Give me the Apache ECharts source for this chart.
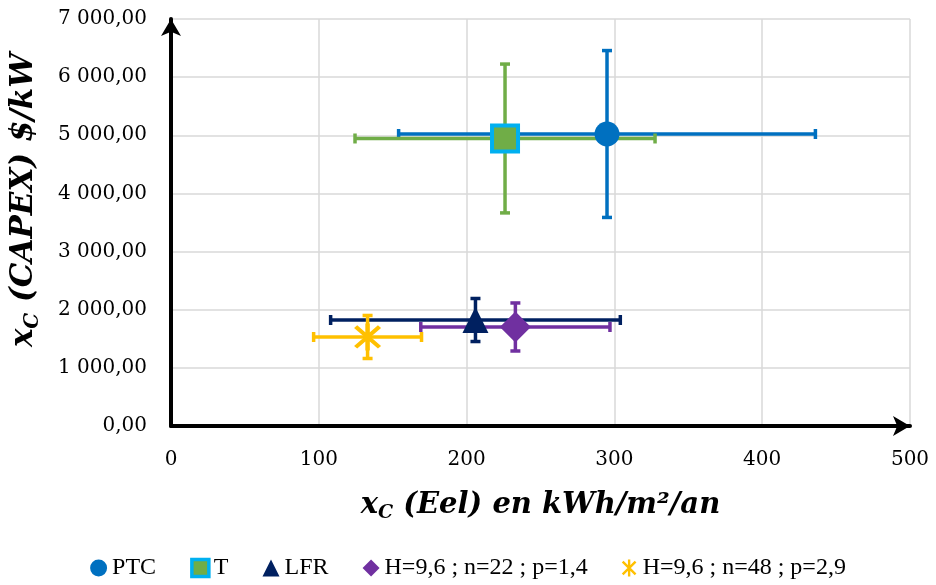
<!DOCTYPE html>
<html>
<head>
<meta charset="utf-8">
<script src="https://cdn.jsdelivr.net/npm/echarts@6/dist/echarts.min.js"></script>
<style>html,body{margin:0;padding:0;background:#fff;}#c{width:936px;height:585px;}</style>
</head>
<body>
<div id="c"></div>
<script>
var categories = ['PTC', 'T', 'LFR', 'H=9,6 ; n=22 ; p=1,4', 'H=9,6 ; n=48 ; p=2,9'];
var xValues = [295, 226, 206, 233, 133];
var yValues = [5022, 4945, 1823, 1703, 1531];
var xErrors = [141, 101.5, 98, 64, 36.5];
var yErrors = [1435, 1280, 370, 413, 370];
var xTicks = [0, 100, 200, 300, 400, 500];
var yTicks = [0, 1000, 2000, 3000, 4000, 5000, 6000, 7000];

var colors = ['#0070C0', '#70AD47', '#002060', '#7030A0', '#FFC000'];
var starPath = 'path://M43 0L57 0L57 100L43 100Z M17 7L93 83L83 93L7 17Z M83 7L93 17L17 93L7 83Z';
var symbols = ['circle', 'rect', 'triangle', 'diamond', starPath];
var sizes = [25, 26, 26, 31, 27];

function fmt(v) {
  var s = Math.round(v).toString().replace(/\B(?=(\d{3})+(?!\d))/g, ' ');
  return s + ',00';
}

var series = [];
// error bars
categories.forEach(function (name, i) {
  series.push({
    type: 'custom',
    name: name,
    z: 2,
    silent: true,
    data: [[xValues[i], yValues[i], xErrors[i], yErrors[i]]],
    renderItem: function (params, api) {
      var x = api.value(0), y = api.value(1), ex = api.value(2), ey = api.value(3);
      var l = api.coord([x - ex, y]), r = api.coord([x + ex, y]);
      var t = api.coord([x, y + ey]), b = api.coord([x, y - ey]);
      var cap = 5;
      var st = { stroke: colors[i], lineWidth: 3.5 };
      return {
        type: 'group',
        children: [
          { type: 'line', shape: { x1: l[0], y1: l[1], x2: r[0], y2: r[1] }, style: st },
          { type: 'line', shape: { x1: l[0], y1: l[1] - cap, x2: l[0], y2: l[1] + cap }, style: st },
          { type: 'line', shape: { x1: r[0], y1: r[1] - cap, x2: r[0], y2: r[1] + cap }, style: st },
          { type: 'line', shape: { x1: t[0], y1: t[1], x2: b[0], y2: b[1] }, style: st },
          { type: 'line', shape: { x1: t[0] - cap, y1: t[1], x2: t[0] + cap, y2: t[1] }, style: st },
          { type: 'line', shape: { x1: b[0] - cap, y1: b[1], x2: b[0] + cap, y2: b[1] }, style: st }
        ]
      };
    }
  });
});
// markers
categories.forEach(function (name, i) {
  var style = { color: colors[i], opacity: 1 };
  if (i === 1) { style = { color: '#70AD47', borderColor: '#00B0F0', borderWidth: 4, opacity: 1 }; }
  series.push({
    type: 'scatter',
    name: name,
    z: 5,
    symbol: symbols[i],
    symbolSize: sizes[i],
    itemStyle: style,
    data: [[xValues[i], yValues[i]]]
  });
});

var legendData = categories.map(function (name, i) {
  var it = { name: name, icon: symbols[i], itemStyle: { color: colors[i] } };
  if (i === 1) { it.itemStyle = { color: '#70AD47', borderColor: '#00B0F0', borderWidth: 3.5 }; }
  return it;
});

function rich(size, sub) {
  return {
    a: { fontFamily: 'DejaVu Serif', fontWeight: 'bold', fontStyle: 'italic', fontSize: size, color: '#000', fill: '#000' },
    s: { fontFamily: 'DejaVu Serif', fontWeight: 'bold', fontStyle: 'italic', fontSize: sub, color: '#000', fill: '#000', padding: [Math.round(size * 0.55), 0, 0, 0] }
  };
}

var chart = echarts.init(document.getElementById('c'));
chart.setOption({
  animation: false,
  backgroundColor: '#fff',
  grid: { left: 171, right: 26, top: 19, bottom: 159 },
  legend: {
    bottom: 0,
    left: 'center',
    itemWidth: 17,
    itemHeight: 17,
    itemGap: 34,
    data: legendData,
    textStyle: { fontFamily: 'Liberation Serif', fontSize: 24, color: '#000' }
  },
  xAxis: {
    type: 'value',
    min: 0, max: 500, interval: 100,
    name: '{a|x}{s|C}{a| (Eel) en kWh/m²/an}',
    nameLocation: 'middle',
    nameGap: 62,
    nameTextStyle: { rich: rich(29, 19) },
    axisLine: { show: true, lineStyle: { color: '#000', width: 4 }, symbol: ['none', 'arrow'], symbolSize: [15, 17], symbolOffset: [0, 0] },
    axisTick: { show: false },
    axisLabel: { margin: 24, fontFamily: 'DejaVu Serif', fontSize: 20, color: '#000', formatter: function (v) { return xTicks.indexOf(v) >= 0 ? String(v) : ''; } },
    splitLine: { show: true, lineStyle: { color: '#D9D9D9', width: 1.5 } }
  },
  yAxis: {
    type: 'value',
    min: 0, max: 7000, interval: 1000,
    axisLine: { show: true, lineStyle: { color: '#000', width: 4 }, symbol: ['none', 'arrow'], symbolSize: [15, 17], symbolOffset: [0, 0] },
    axisTick: { show: false },
    axisLabel: { margin: 24, fontFamily: 'DejaVu Serif', fontSize: 20, color: '#000', formatter: function (v) { return yTicks.indexOf(v) >= 0 ? fmt(v) : ''; } },
    splitLine: { show: true, lineStyle: { color: '#D9D9D9', width: 1.5 } }
  },
  graphic: [{
    type: 'text',
    x: 24,
    y: 200,
    rotation: Math.PI / 2,
    style: {
      text: '{a|x}{s|C}{a| (CAPEX) $/kW}',
      align: 'center',
      verticalAlign: 'middle',
      rich: rich(31, 20)
    }
  }],
  series: series
});
</script>
</body>
</html>
